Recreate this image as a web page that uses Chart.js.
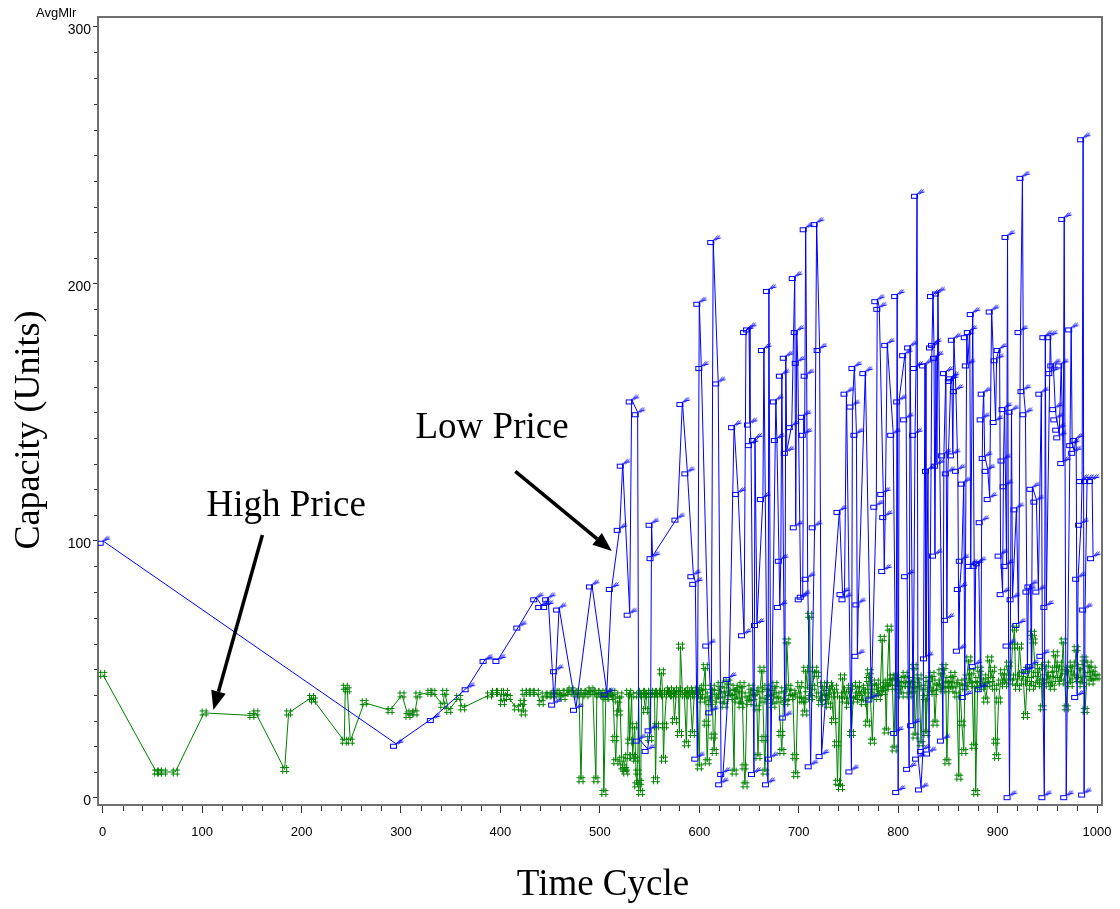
<!DOCTYPE html>
<html>
<head>
<meta charset="utf-8">
<title>Capacity by Time Cycle</title>
<script src="https://cdn.jsdelivr.net/npm/chart.js@4.4.1/dist/chart.umd.min.js"></script>
<style>
  html, body { margin: 0; padding: 0; background: #ffffff; }
  #chart { display: block; }
</style>
</head>
<body>
<canvas id="chart" width="1120" height="909"></canvas>
<script>
// Average capacity per time cycle, low-price market (blue) as [cycle, units]
const lowPriceSeries = [
  [0,100],[295,21],[332,31],[367,43],[385,54],[398,54],[419,67],[436,78],[441,75],[446,75],
  [448,78],[454,37],[456,50],[459,74],[476,35],[492,83],[507,41],[512,82],[520,105],[523,130],
  [530,72],[532,155],[538,150],[539,23],[548,19],[551,27],[552,107],[553,94],[578,109],[583,154],
  [588,127],[594,87],[596,84],[598,16],[600,193],[602,168],[609,60],[612,34],[614,217],[619,162],
  [622,6],[624,10],[630,47],[635,145],[639,119],[645,64],[647,182],[650,183],[651,146],[652,138],
  [655,10],[656,140],[658,68],[664,117],[665,175],[669,6],[670,198],[672,16],[677,155],[678,140],
  [681,75],[682,93],[683,165],[686,32],[687,172],[688,135],[693,145],[696,203],[697,106],[698,182],
  [699,170],[702,78],[704,79],[705,149],[706,142],[707,222],[708,165],[709,86],[712,13],[716,106],
  [718,224],[721,175],[723,17],[741,112],[744,80],[746,78],[748,158],[753,11],[754,153],[756,168],
  [758,142],[759,56],[760,76],[767,166],[773,39],[778,114],[779,194],[781,191],[785,119],[786,89],
  [787,110],[789,177],[795,142],[798,26],[799,196],[800,3],[801,155],[807,173],[808,148],[809,87],
  [811,12],[812,176],[815,29],[817,142],[818,168],[819,235],[820,16],[823,4],[825,19],[827,169],
  [828,55],[830,128],[831,18],[834,176],[835,196],[836,177],[837,95],[838,172],[839,130],[840,197],
  [845,23],[846,134],[848,166],[849,70],[850,127],[853,163],[854,164],[855,134],[856,179],[858,159],
  [860,128],[861,58],[862,82],[864,93],[866,123],[867,40],[869,180],[870,169],[872,182],[873,91],
  [875,189],[877,52],[878,91],[881,92],[883,43],[884,108],[885,148],[886,158],[887,133],[890,128],
  [892,117],[894,190],[898,147],[899,171],[902,175],[903,95],[905,80],[906,132],[907,152],[908,122],
  [909,91],[910,219],[911,60],[912,1],[914,151],[915,78],[919,113],[921,68],[923,182],[925,242],
  [926,159],[928,150],[930,50],[931,81],[933,83],[934,52],[935,121],[939,116],[941,81],[944,158],
  [945,56],[947,1],[948,180],[949,75],[953,180],[954,166],[956,169],[958,152],[959,148],[961,144],
  [962,141],[964,169],[966,131],[967,226],[969,1],[974,183],[975,138],[977,135],[979,140],[980,40],
  [981,86],[984,107],[985,124],[986,257],[987,2],[988,74],[990,124],[995,124],[996,94]
];

// Average capacity per time cycle, high-price market (green) as [cycle, units]
const highPriceSeries = [
  [0,48],[54,10],[57,10],[61,10],[73,10],[102,33],[150,32],[154,33],[183,11],[187,33],
  [210,39],[212,38],[243,22],[244,43],[246,42],[249,22],[263,37],[289,34],[301,40],[307,32],
  [310,33],[314,33],[317,40],[329,41],[332,41],[342,36],[344,41],[348,34],[358,39],[362,35],
  [389,40],[394,41],[399,41],[402,37],[405,41],[408,39],[416,35],[422,37],[423,33],[424,41],
  [428,41],[431,41],[436,41],[441,37],[444,40],[449,40],[452,40],[455,41],[458,40],[461,41],
  [463,39],[466,41],[469,41],[471,42],[474,41],[477,40],[479,41],[481,7],[483,41],[486,40],
  [488,41],[491,42],[493,41],[496,7],[497,41],[499,40],[501,41],[503,40],[504,2],[506,39],
  [508,41],[510,40],[511,39],[513,41],[515,23],[516,14],[518,38],[519,33],[520,40],[522,15],
  [523,12],[525,11],[526,10],[528,16],[529,41],[530,22],[532,40],[533,16],[535,28],[536,15],
  [537,5],[538,10],[539,40],[540,6],[541,2],[542,41],[544,40],[546,34],[547,41],[549,40],
  [550,23],[551,41],[553,40],[555,41],[556,7],[557,28],[558,41],[560,40],[562,49],[563,41],
  [564,15],[565,28],[567,41],[569,40],[570,42],[572,41],[574,40],[575,30],[577,41],[579,42],
  [580,25],[581,59],[583,41],[585,40],[587,21],[588,41],[590,42],[591,40],[593,25],[595,41],
  [597,40],[598,42],[600,12],[601,41],[603,38],[604,43],[606,51],[607,29],[608,14],[610,40],
  [611,37],[613,43],[614,24],[615,18],[617,41],[619,38],[621,44],[623,40],[625,36],[627,42],
  [629,45],[631,39],[633,41],[635,10],[636,43],[638,38],[640,42],[642,36],[643,44],[645,12],
  [646,5],[648,40],[650,37],[652,43],[654,39],[656,41],[658,35],[659,16],[661,42],[663,50],
  [664,38],[665,23],[666,10],[668,43],[670,39],[672,41],[674,36],[676,44],[678,40],[680,38],
  [682,25],[683,18],[685,42],[687,37],[688,61],[690,43],[692,39],[694,41],[696,16],[697,9],
  [699,40],[701,44],[703,38],[705,38],[706,33],[707,50],[709,42],[711,71],[712,39],[714,43],
  [716,50],[718,48],[720,40],[722,37],[724,44],[726,39],[728,41],[730,36],[731,44],[733,40],
  [735,30],[736,43],[738,21],[739,6],[741,40],[742,4],[744,47],[746,38],[748,42],[750,36],
  [752,43],[753,25],[755,40],[757,38],[759,44],[761,39],[763,42],[765,37],[767,43],[769,29],
  [770,46],[771,49],[772,40],[774,22],[776,43],[778,45],[780,39],[782,42],[784,62],[785,41],
  [787,44],[788,26],[789,45],[791,66],[792,43],[794,47],[796,19],[797,47],[799,43],[801,46],
  [803,40],[805,44],[807,48],[809,44],[811,40],[813,46],[815,42],[816,51],[817,24],[819,44],
  [821,47],[823,21],[825,43],[827,39],[828,25],[830,46],[832,42],[834,48],[836,41],[837,29],
  [839,45],[841,43],[843,49],[845,42],[846,51],[848,44],[849,14],[851,46],[853,42],[855,48],
  [857,44],[859,40],[861,8],[862,45],[864,29],[866,18],[867,43],[869,47],[871,54],[872,44],
  [874,49],[876,20],[877,44],[878,2],[880,46],[882,50],[884,43],[886,47],[888,38],[890,44],
  [892,54],[893,46],[895,50],[897,43],[898,22],[899,16],[901,38],[903,45],[905,49],[907,44],
  [909,47],[911,52],[913,45],[915,59],[917,66],[918,47],[920,43],[922,59],[924,48],[926,45],
  [928,32],[930,50],[932,46],[934,43],[935,64],[936,61],[938,48],[940,44],[942,51],[944,45],
  [945,35],[947,47],[949,52],[951,44],[953,48],[955,43],[957,50],[958,56],[960,46],[962,52],
  [964,45],[966,61],[967,49],[969,35],[971,50],[973,44],[975,52],[977,47],[979,58],[981,46],
  [983,51],[985,44],[987,54],[988,34],[990,48],[992,52],[994,45],[996,50],[998,47],[1000,47]
];

// Axis tick labels
const cycleTicks = [0, 100, 200, 300, 400, 500, 600, 700, 800, 900, 1000];
const capacityTicks = [0, 100, 200, 300];

// Text annotations with the point each arrow aims at (data units)
const notes = [
  { text: 'Low Price',  at: [391.6, 143.9], from: [415, 127],   to: [512, 96] },
  { text: 'High Price', at: [184.6, 113.5], from: [160.6, 102.2], to: [111.3, 34.1] }
];

const BLUE = '#0000ff';
const GREEN = '#008000';
const AXIS = '#707070';
const TICK = '#333333';

// Square-with-flag symbol for the low-price series
function squareSymbol() {
  const c = document.createElement('canvas');
  c.width = 18; c.height = 14;
  const g = c.getContext('2d');
  g.strokeStyle = BLUE;
  g.lineWidth = 1;
  g.strokeRect(3.5, 7.5, 6, 4);
  g.beginPath();
  g.moveTo(9.5, 7.5); g.lineTo(13.5, 2.5);
  g.moveTo(11.5, 7.5); g.lineTo(15.5, 2.5);
  g.moveTo(9.5, 6.5); g.lineTo(16.5, 5);
  g.stroke();
  return c;
}

// Hash symbol for the high-price series
function hashSymbol() {
  const c = document.createElement('canvas');
  c.width = 11; c.height = 11;
  const g = c.getContext('2d');
  g.strokeStyle = GREEN;
  g.lineWidth = 1;
  g.beginPath();
  g.moveTo(3.5, 1); g.lineTo(3.5, 10);
  g.moveTo(7.5, 1); g.lineTo(7.5, 10);
  g.moveTo(1, 3.5); g.lineTo(10, 3.5);
  g.moveTo(1, 7.5); g.lineTo(10, 7.5);
  g.stroke();
  return c;
}

const toPoints = rows => rows.map(([x, y]) => ({ x, y }));

function drawArrow(ctx, x1, y1, x2, y2) {
  const ang = Math.atan2(y2 - y1, x2 - x1);
  const headLen = 19, headHalf = 7.5;
  const bx = x2 - headLen * Math.cos(ang);
  const by = y2 - headLen * Math.sin(ang);
  ctx.beginPath();
  ctx.moveTo(x1, y1);
  ctx.lineTo(bx, by);
  ctx.lineWidth = 3.5;
  ctx.strokeStyle = '#000';
  ctx.stroke();
  ctx.beginPath();
  ctx.moveTo(x2, y2);
  ctx.lineTo(bx + headHalf * Math.sin(ang), by - headHalf * Math.cos(ang));
  ctx.lineTo(bx - headHalf * Math.sin(ang), by + headHalf * Math.cos(ang));
  ctx.closePath();
  ctx.fillStyle = '#000';
  ctx.fill();
}

const frameAndNotes = {
  id: 'frameAndNotes',
  beforeDraw(chart) {
    const ctx = chart.ctx;
    ctx.save();
    ctx.fillStyle = '#ffffff';
    ctx.fillRect(0, 0, chart.width, chart.height);
    ctx.restore();
  },
  afterDraw(chart) {
    const { ctx, chartArea: a, scales: { x, y } } = chart;
    ctx.save();

    // top and right sides of the frame
    ctx.strokeStyle = AXIS;
    ctx.lineWidth = 2;
    ctx.beginPath();
    ctx.moveTo(a.left - 1, a.top);
    ctx.lineTo(a.right, a.top);
    ctx.lineTo(a.right, a.bottom + 1);
    ctx.stroke();

    // minor ticks
    ctx.strokeStyle = TICK;
    ctx.lineWidth = 1;
    ctx.beginPath();
    for (let v = 0; v <= 1000; v += 20) {
      if (v % 100 === 0) continue;
      const px = Math.round(x.getPixelForValue(v)) + 0.5;
      ctx.moveTo(px, a.bottom + 1);
      ctx.lineTo(px, a.bottom + 6);
    }
    for (let v = 0; v <= 300; v += 10) {
      if (v % 100 === 0) continue;
      const py = Math.round(y.getPixelForValue(v)) + 0.5;
      ctx.moveTo(a.left - 1, py);
      ctx.lineTo(a.left - 4, py);
    }
    ctx.stroke();

    // variable name above the vertical axis
    ctx.fillStyle = '#000';
    ctx.font = '13px "Liberation Sans", Arial, sans-serif';
    ctx.textAlign = 'left';
    ctx.textBaseline = 'middle';
    ctx.fillText('AvgMlr', 36, 13);

    // axis titles
    ctx.font = '37px "Liberation Serif", "Times New Roman", serif';
    ctx.textAlign = 'center';
    ctx.textBaseline = 'middle';
    ctx.fillText('Time Cycle', 603, 885);
    ctx.save();
    ctx.font = '36px "Liberation Serif", "Times New Roman", serif';
    ctx.translate(30, 430);
    ctx.rotate(-Math.PI / 2);
    ctx.fillText('Capacity (Units)', 0, 0);
    ctx.restore();

    // annotations
    ctx.font = '37px "Liberation Serif", "Times New Roman", serif';
    for (const n of notes) {
      ctx.fillStyle = '#000';
      ctx.fillText(n.text, x.getPixelForValue(n.at[0]), y.getPixelForValue(n.at[1]));
      drawArrow(ctx,
        x.getPixelForValue(n.from[0]), y.getPixelForValue(n.from[1]),
        x.getPixelForValue(n.to[0]), y.getPixelForValue(n.to[1]));
    }
    ctx.restore();
  }
};

new Chart(document.getElementById('chart'), {
  type: 'scatter',
  data: {
    datasets: [
      {
        label: 'Low Price',
        data: toPoints(lowPriceSeries),
        showLine: true,
        borderColor: BLUE,
        borderWidth: 1,
        tension: 0,
        pointStyle: squareSymbol(),
        pointRadius: 4,
        pointHoverRadius: 4
      },
      {
        label: 'High Price',
        data: toPoints(highPriceSeries),
        showLine: true,
        borderColor: GREEN,
        borderWidth: 1,
        tension: 0,
        pointStyle: hashSymbol(),
        pointRadius: 4,
        pointHoverRadius: 4
      }
    ]
  },
  options: {
    responsive: false,
    animation: false,
    devicePixelRatio: 1,
    layout: { padding: { left: 0, right: 18, top: 17, bottom: 0 } },
    plugins: {
      legend: { display: false },
      tooltip: { enabled: false }
    },
    scales: {
      x: {
        type: 'linear',
        min: -4.7,
        max: 1005,
        afterBuildTicks: s => { s.ticks = cycleTicks.map(v => ({ value: v })); },
        afterFit: s => { s.height = 104; s.paddingLeft = 0; s.paddingRight = 0; },
        grid: { display: true, drawOnChartArea: false, drawTicks: true, tickLength: 8, color: TICK, lineWidth: 1 },
        border: { display: true, color: AXIS, width: 2 },
        ticks: {
          autoSkip: false,
          maxRotation: 0,
          padding: 12,
          color: '#000',
          font: { family: '"Liberation Sans", Arial, sans-serif', size: 13 },
          callback: v => String(v)
        }
      },
      y: {
        type: 'linear',
        min: -2.84,
        max: 303.8,
        afterBuildTicks: s => { s.ticks = capacityTicks.map(v => ({ value: v })); },
        afterFit: s => { s.width = 98; s.paddingTop = 0; s.paddingBottom = 0; },
        grid: { display: true, drawOnChartArea: false, drawTicks: true, tickLength: 5, color: TICK, lineWidth: 1 },
        border: { display: true, color: AXIS, width: 2 },
        ticks: {
          padding: 2,
          labelOffset: 3,
          color: '#000',
          font: { family: '"Liberation Sans", Arial, sans-serif', size: 14 },
          callback: v => String(v)
        }
      }
    }
  },
  plugins: [frameAndNotes]
});
</script>
</body>
</html>
